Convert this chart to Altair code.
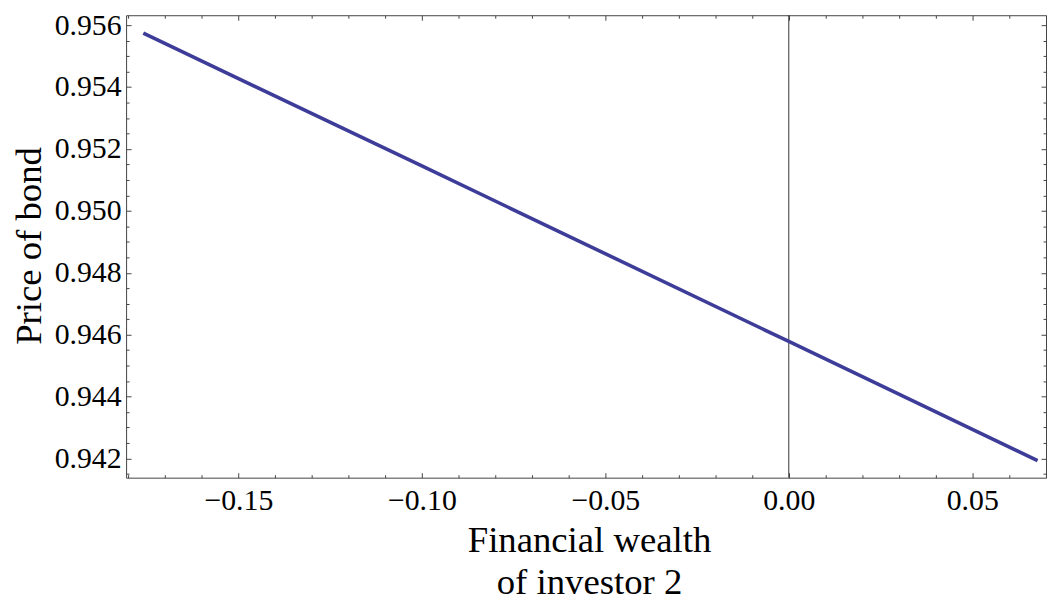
import altair as alt
import pandas as pd

# ---- data ----
wealth = [-0.1759, -0.10, 0.0, 0.0678]
price = [0.95574, 0.95145, 0.94578, 0.94193]

x_major = [-0.15, -0.10, -0.05, 0.00, 0.05]
x_minor = [-0.18, -0.17, -0.16, -0.14, -0.13, -0.12, -0.11, -0.09, -0.08, -0.07,
           -0.06, -0.04, -0.03, -0.02, -0.01, 0.01, 0.02, 0.03, 0.04, 0.06, 0.07]
y_major = [0.942, 0.944, 0.946, 0.948, 0.950, 0.952, 0.954, 0.956]
y_minor = [0.9415, 0.9425, 0.943, 0.9435, 0.9445, 0.945, 0.9455, 0.9465, 0.947,
           0.9475, 0.9485, 0.949, 0.9495, 0.9505, 0.951, 0.9515, 0.9525, 0.953,
           0.9535, 0.9545, 0.955, 0.9555]
zero_line = [0.0]

x_domain = [-0.1806, 0.0701]
y_domain = [0.94138, 0.95632]

FONT = "Liberation Serif"
FRAME = "#444444"
W, H = 927, 466

xs = alt.Scale(domain=x_domain, nice=False, zero=False)
ys = alt.Scale(domain=y_domain, nice=False, zero=False)

df = pd.DataFrame({"w": wealth, "p": price})

line = alt.Chart(df).mark_line(color="#3D3D99", strokeWidth=3.6).encode(
    x=alt.X("w:Q", scale=xs, axis=alt.Axis(
        orient="bottom", values=x_major, format=".2f", ticks=False, tickSize=0,
        domain=False, grid=False, labelFont=FONT, labelFontSize=30,
        labelColor="black", labelPadding=8, labelFlush=False,
        title=["Financial wealth", "of investor 2"], titleFont=FONT,
        titleFontSize=37, titleFontWeight="normal", titleColor="black",
        titleLineHeight=43, titleBaseline="alphabetic", titleAlign="center",
        titleX=W / 2 + 3, titleY=74)),
    y=alt.Y("p:Q", scale=ys, axis=alt.Axis(
        orient="left", values=y_major, format=".3f", ticks=False, tickSize=0,
        domain=False, grid=False, labelFont=FONT, labelFontSize=30,
        labelColor="black", labelPadding=5, labelFlush=False,
        title="Price of bond", titleFont=FONT, titleFontSize=37,
        titleFontWeight="normal", titleColor="black", titleBaseline="middle",
        titleAlign="center", titleX=-97, titleY=H / 2 - 1)),
)

rule = alt.Chart(pd.DataFrame({"z": zero_line})).mark_rule(
    color="#333333", strokeWidth=1).encode(
    x=alt.X("z:Q", scale=xs, axis=None))


def tick_layer(channel, values, orient, size):
    d = pd.DataFrame({"v": values})
    ax = alt.Axis(orient=orient, values=values, labels=False, domain=False,
                  grid=False, title=None, tickSize=size, offset=-size,
                  tickColor=FRAME, tickWidth=1)
    base = alt.Chart(d).mark_point(opacity=0)
    if channel == "x":
        return base.encode(x=alt.X("v:Q", scale=xs, axis=ax))
    return base.encode(y=alt.Y("v:Q", scale=ys, axis=ax))


ticks = [
    tick_layer("x", x_major, "bottom", 5),
    tick_layer("x", x_minor, "bottom", 3),
    tick_layer("x", x_major, "top", 5),
    tick_layer("x", x_minor, "top", 3),
    tick_layer("y", y_major, "left", 5),
    tick_layer("y", y_minor, "left", 3),
    tick_layer("y", y_major, "right", 5),
    tick_layer("y", y_minor, "right", 3),
]

chart = alt.layer(rule, line, *ticks).resolve_axis(
    x="independent", y="independent"
).properties(
    width=W, height=H,
    autosize=alt.AutoSizeParams(type="none"),
    padding={"left": 119, "top": 5, "right": 2, "bottom": 124},
    background="white",
).configure_view(stroke=FRAME, strokeWidth=1)

chart.save("out.html", embed_options={"renderer": "svg", "actions": False})
